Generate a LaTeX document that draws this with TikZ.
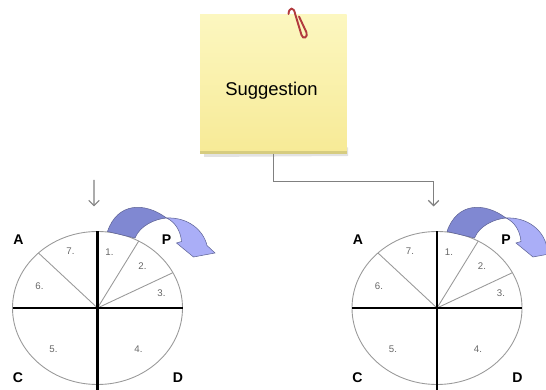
\documentclass[tikz,border=0pt]{standalone}
\usepackage{fontspec}
\setmainfont{Liberation Sans}
\usetikzlibrary{arrows.meta}
\definecolor{notetop}{RGB}{252,247,192}
\definecolor{notebot}{RGB}{247,234,150}
\definecolor{noteedge}{RGB}{214,204,128}
\definecolor{clipred}{RGB}{178,58,62}
\definecolor{bandback}{RGB}{128,136,210}
\definecolor{bandfront}{RGB}{170,174,247}
\definecolor{bandline}{RGB}{95,100,150}
\tikzset{
  conn/.style={->,gray,line width=0.7pt},
  rim/.style={gray!80,line width=0.5pt},
  axis/.style={black,line width=1.3pt},
  phase/.style={font=\bfseries\fontsize{8}{9}\selectfont},
  stepnum/.style={gray!80!black,font=\fontsize{5.5}{6}\selectfont},
}
\begin{document}
\begin{tikzpicture}[>={Straight Barb[length=3pt,width=6pt]}]
\useasboundingbox (0,0) rectangle (10.92,7.8);
% the note with its shadow
\fill[black!25,opacity=.45](4.08,4.66)--(6.96,4.68)--(6.96,4.85)--(4.08,4.85)--cycle;
\node[top color=notetop,bottom color=notebot,minimum width=2.93cm,minimum height=2.77cm,inner sep=0](note) at (5.465,6.115){};
\fill[noteedge](note.south west) rectangle ([yshift=.05cm]note.south east);
\node[font=\fontsize{10.5}{12}\selectfont](sugg) at (5.43,5.98){Suggestion};
\draw[clipred,line width=1.1pt,line cap=round](5.77,7.52) .. controls (5.78,7.66) and (5.88,7.66) .. (5.90,7.53)--(6.03,7.10) .. controls (6.06,7.00) and (6.16,7.05) .. (6.13,7.15)--(5.98,7.47);
% two PDCA wheels
\foreach \cx/\k in {1.95/L,8.74/R}
{
\begin{scope}[shift={(\cx,1.64)}]
    \draw[rim](0,0) ellipse (1.70 and 1.53);
    \foreach \a in {134,61,27.5}
        \draw[rim](0,0)--(\a:1.70 and 1.53);
    \draw[axis](0,1.53)--(0,-1.64);
    \draw[axis](-1.70,0)--(1.70,0);
    \foreach \x/\y/\n in {0.24/1.12/1,0.90/0.83/2,1.28/0.30/3,0.82/-0.82/4,-0.88/-0.82/5,-1.16/0.43/6,-0.54/1.13/7}
        \node[stepnum] at (\x,\y){\n.};
    % turning band over the top
    \filldraw[bandback,draw=bandline,line width=.3pt](0.20,1.53) .. controls (0.40,2.12) and (0.95,2.12) .. (1.38,1.80) .. controls (1.15,1.78) and (0.85,1.65) .. (0.75,1.40)--cycle;
    \filldraw[bandfront,draw=bandline,line width=.3pt](1.38,1.80) .. controls (1.82,1.82) and (2.12,1.55) .. (2.19,1.25)--(2.35,1.10)--(1.92,1.02)--(1.58,1.30)--(1.68,1.33) .. controls (1.66,1.55) and (1.55,1.72) .. (1.38,1.80)--cycle;
    \node[phase](A\k) at (-1.58,1.37){A};
    \node[phase](P\k) at (1.38,1.37){P};
    \node[phase](C\k) at (-1.59,-1.39){C};
    \node[phase](D\k) at (1.61,-1.39){D};
    \coordinate(in\k) at (-0.07,2.03);
\end{scope}
}
\coordinate(fromL) at (1.88,4.20);
\draw[conn](fromL)--(inL);
\draw[conn](note.south)--++(0,-.55)-|(inR);
\end{tikzpicture}
\end{document}
